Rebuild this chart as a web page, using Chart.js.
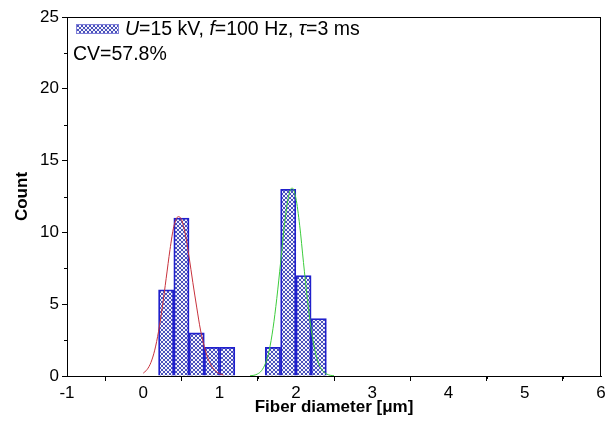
<!DOCTYPE html>
<html>
<head>
<meta charset="utf-8">
<script src="https://cdn.jsdelivr.net/npm/chart.js@4/dist/chart.umd.min.js"></script>
<style>
  html, body { margin: 0; padding: 0; background: #ffffff; }
  #wrap { width: 612px; height: 435px; position: relative; }
</style>
</head>
<body>
<div id="wrap"><canvas id="c" width="612" height="435"></canvas></div>
<script>
// ---- data ----
const binCenters = [0.3, 0.5, 0.7, 0.9, 1.1, 1.7, 1.9, 2.1, 2.3];
const counts     = [6, 11, 3, 2, 2, 2, 13, 7, 4];

const redX = [0.0, 0.05, 0.1, 0.15, 0.2, 0.25, 0.3, 0.35, 0.4, 0.46, 0.5, 0.55, 0.6, 0.65, 0.7, 0.75, 0.8, 0.85, 0.9, 0.95, 1.0, 1.05];
const redY = [0.2, 0.45, 0.94, 1.8, 3.1, 4.8, 6.8, 8.8, 10.4, 11.1, 10.9, 9.9, 8.3, 6.5, 4.8, 3.2, 2.05, 1.2, 0.65, 0.33, 0.16, 0.07];

const greenX = [1.4, 1.45, 1.5, 1.55, 1.6, 1.65, 1.7, 1.75, 1.8, 1.85, 1.9, 1.95, 2.0, 2.05, 2.1, 2.15, 2.2, 2.25, 2.3, 2.35, 2.4, 2.45, 2.5];
const greenY = [0.02, 0.05, 0.15, 0.37, 0.86, 1.77, 3.3, 5.4, 7.9, 10.5, 12.4, 13.1, 12.4, 10.5, 7.9, 5.4, 3.3, 1.77, 0.86, 0.37, 0.15, 0.05, 0.02];

const xTicks = [-1, 0, 1, 2, 3, 4, 5, 6];
const xMinor = [-0.5, 0.5, 1.5, 2.5, 3.5, 4.5, 5.5];
const yTicks = [0, 5, 10, 15, 20, 25];
const yMinor = [2.5, 7.5, 12.5, 17.5, 22.5];

const legendParts = [
  { t: 'U', i: true }, { t: '=15 kV, ', i: false },
  { t: 'f', i: true }, { t: '=100 Hz, ', i: false },
  { t: 'τ', i: true }, { t: '=3 ms', i: false }
];
const cvText = 'CV=57.8%';

// ---- pattern ----
function makePattern() {
  const t = document.createElement('canvas');
  t.width = 4; t.height = 4;
  const g = t.getContext('2d');
  g.fillStyle = '#f4f4fc';
  g.fillRect(0, 0, 4, 4);
  g.fillStyle = '#4a52bc';
  for (let i = 0; i < 4; i++) {
    g.fillRect(i, i, 1, 1);
    g.fillRect(3 - i, i, 1, 1);
  }
  return document.getElementById('c').getContext('2d').createPattern(t, 'repeat');
}
const pattern = makePattern();

const FONT = "'Liberation Sans', Arial, sans-serif";

const extras = {
  id: 'extras',
  afterDraw(chart) {
    const ctx = chart.ctx;
    const a = chart.chartArea;
    const xs = chart.scales.x, ys = chart.scales.y;
    ctx.save();
    ctx.strokeStyle = '#000';
    ctx.lineWidth = 1;
    // frame top & right
    ctx.beginPath();
    ctx.moveTo(a.left, Math.round(a.top) + 0.5);
    ctx.lineTo(a.right, Math.round(a.top) + 0.5);
    ctx.moveTo(Math.round(a.right) - 0.5, a.top);
    ctx.lineTo(Math.round(a.right) - 0.5, a.bottom);
    ctx.stroke();
    // minor ticks
    ctx.beginPath();
    xMinor.forEach(v => {
      const px = Math.round(xs.getPixelForValue(v)) + 0.5;
      ctx.moveTo(px, a.bottom);
      ctx.lineTo(px, a.bottom + 3);
    });
    yMinor.forEach(v => {
      const py = Math.round(ys.getPixelForValue(v)) + 0.5;
      ctx.moveTo(a.left, py);
      ctx.lineTo(a.left - 3, py);
    });
    ctx.stroke();
    // legend
    ctx.fillStyle = pattern;
    ctx.fillRect(76, 24, 43, 10);
    ctx.strokeStyle = '#8080d8';
    ctx.strokeRect(76.5, 24.5, 42, 9);
    ctx.fillStyle = '#000';
    ctx.textBaseline = 'middle';
    ctx.textAlign = 'left';
    let x = 125;
    legendParts.forEach(p => {
      ctx.font = (p.i ? 'italic ' : '') + '19.5px ' + FONT;
      ctx.fillText(p.t, x, 30);
      x += ctx.measureText(p.t).width;
    });
    ctx.font = '19.5px ' + FONT;
    ctx.fillText(cvText, 73, 55);
    ctx.restore();
  }
};

new Chart(document.getElementById('c'), {
  data: {
    datasets: [
      {
        type: 'line',
        data: redX.map((x, i) => ({ x, y: redY[i] })),
        borderColor: '#c8323c',
        borderWidth: 1,
        pointRadius: 0,
        cubicInterpolationMode: 'monotone',
        order: 0
      },
      {
        type: 'line',
        data: greenX.map((x, i) => ({ x, y: greenY[i] })),
        borderColor: '#3ccc3c',
        borderWidth: 1,
        pointRadius: 0,
        cubicInterpolationMode: 'monotone',
        order: 0
      },
      {
        type: 'bar',
        data: binCenters.map((x, i) => ({ x, y: counts[i] })),
        backgroundColor: pattern,
        borderColor: '#2020cc',
        borderWidth: 1.8,
        barPercentage: 1,
        categoryPercentage: 1,
        order: 1
      }
    ]
  },
  options: {
    responsive: false,
    animation: false,
    devicePixelRatio: 1,
    layout: { padding: { top: 17, right: 11, left: 0, bottom: 0 } },
    plugins: { legend: { display: false }, tooltip: { enabled: false } },
    scales: {
      x: {
        type: 'linear',
        min: -1, max: 6,
        offset: false,
        afterFit: s => { s.height = 59; },
        afterBuildTicks: s => { s.ticks = xTicks.map(v => ({ value: v })); },
        ticks: { color: '#000', font: { family: FONT, size: 17 }, padding: 2, maxRotation: 0, autoSkip: false },
        grid: { drawOnChartArea: false, tickLength: 5, tickColor: '#000', tickWidth: 1 },
        border: { color: '#000', width: 1 },
        title: { display: true, text: 'Fiber diameter [μm]', color: '#000', font: { family: FONT, size: 17, weight: 'bold' }, padding: { top: 0, bottom: 17 } }
      },
      y: {
        type: 'linear',
        min: 0, max: 25,
        afterFit: s => { s.width = 67; },
        afterBuildTicks: s => { s.ticks = yTicks.map(v => ({ value: v })); },
        ticks: { color: '#000', font: { family: FONT, size: 17 }, padding: 3 },
        grid: { drawOnChartArea: false, tickLength: 5, tickColor: '#000', tickWidth: 1 },
        border: { color: '#000', width: 1 },
        title: { display: true, text: 'Count', color: '#000', font: { family: FONT, size: 17, weight: 'bold' }, padding: { top: 12, bottom: 0 } }
      }
    }
  },
  plugins: [extras]
});
</script>
</body>
</html>
